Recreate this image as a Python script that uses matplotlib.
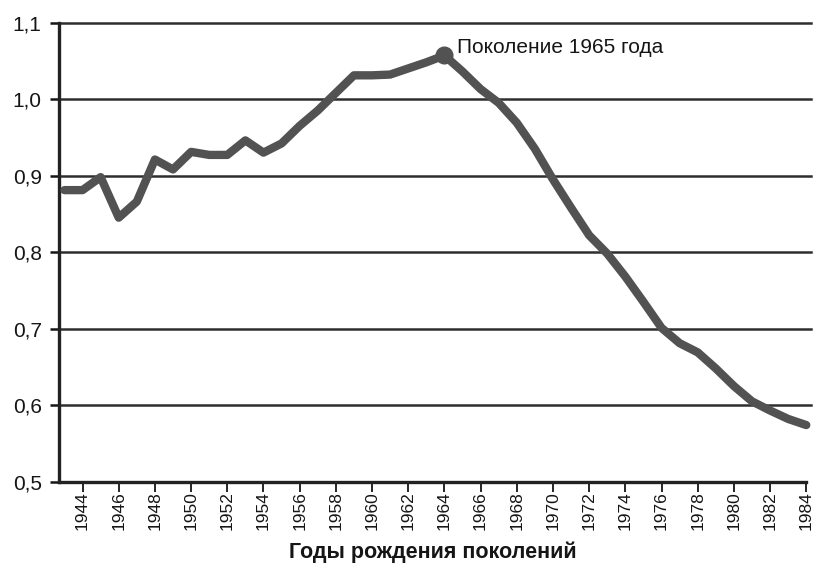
import matplotlib
matplotlib.use("Agg")
import matplotlib.pyplot as plt

# data
years = list(range(1943, 1985))
ratio = [0.881, 0.881, 0.898, 0.845, 0.866, 0.921, 0.908, 0.931, 0.927, 0.927,
         0.946, 0.930, 0.942, 0.965, 0.985, 1.008, 1.031, 1.031, 1.032, 1.040,
         1.048, 1.057, 1.036, 1.013, 0.995, 0.969, 0.935, 0.895, 0.858, 0.822,
         0.798, 0.768, 0.735, 0.701, 0.681, 0.669, 0.648, 0.625, 0.605, 0.593,
         0.582, 0.574]
tick_years = list(range(1944, 1985, 2))
y_ticks = [0.5, 0.6, 0.7, 0.8, 0.9, 1.0, 1.1]
y_labels = ["0,5", "0,6", "0,7", "0,8", "0,9", "1,0", "1,1"]
peak_year = 1964
peak_label = "Поколение 1965 года"
x_title = "Годы рождения поколений"

plt.rcParams['font.family'] = ['Liberation Sans', 'DejaVu Sans']

fig = plt.figure(figsize=(8.14, 5.63), dpi=100)
ax = fig.add_axes([0.0725, 0.1444, 0.918, 0.8156])

line_col = "#525252"
grid_col = "#2e2e2e"
text_col = "#151515"

ax.set_ylim(0.5, 1.1)
ax.set_xlim(1942.7, 1984.0)

# horizontal grid lines run a bit past the last year
for v in y_ticks[1:]:
    ax.axhline(v, xmax=1.006, color=grid_col, lw=1.8, zorder=1, clip_on=False)

ax.plot(years, ratio, color=line_col, lw=6, solid_capstyle='round',
        solid_joinstyle='round', zorder=3, clip_on=False)
pv = ratio[years.index(peak_year)]
ax.plot([peak_year], [pv], 'o', color=line_col, ms=12, zorder=4, clip_on=False)
ax.annotate(peak_label, (peak_year, pv), xytext=(9, 6), textcoords='offset points',
            ha='left', va='center', fontsize=15, color=text_col)

for s in ['top', 'right']:
    ax.spines[s].set_visible(False)
for s in ['left', 'bottom']:
    ax.spines[s].set_linewidth(2.4)
    ax.spines[s].set_color("#222222")
ax.spines['bottom'].set_bounds(1942.7, 1984.0)

ax.set_yticks(y_ticks)
ax.set_yticklabels(y_labels, fontsize=15, color=text_col)
ax.tick_params(axis='y', length=6.5, width=1.8, pad=6, colors=text_col)

ax.set_xticks(tick_years)
ax.set_xticklabels([str(y) for y in tick_years], rotation=90, fontsize=12.5,
                   color=text_col)
ax.tick_params(axis='x', length=7, width=1.3, pad=0, colors=text_col)

ax.set_xlabel(x_title, fontsize=15.5, fontweight='bold', color=text_col, labelpad=8)

fig.savefig("out.png", dpi=100)
